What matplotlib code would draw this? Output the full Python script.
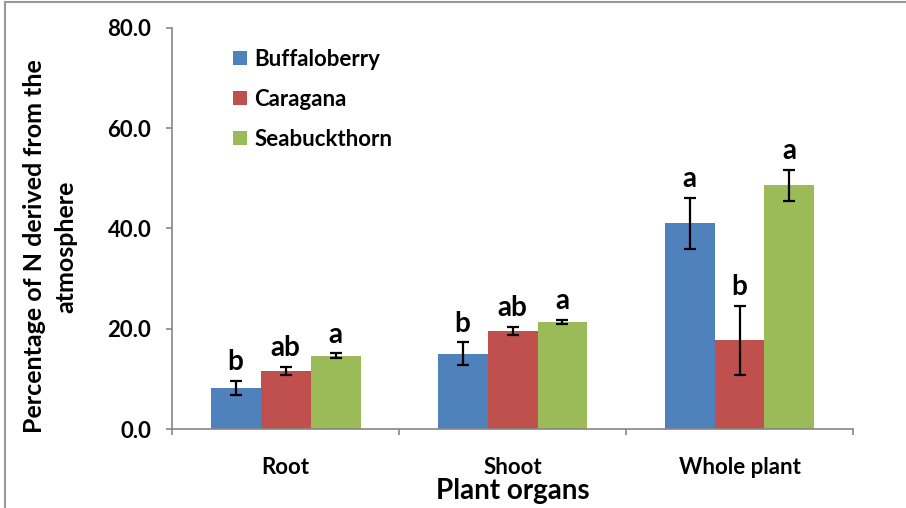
import numpy as np
import matplotlib
matplotlib.use('Agg')
import matplotlib.pyplot as plt
from matplotlib.lines import Line2D

plt.rcParams['font.family'] = ['Lato', 'DejaVu Sans']
plt.rcParams['font.weight'] = 'bold'

# data
organs = ['Root', 'Shoot', 'Whole plant']
species = ['Buffaloberry', 'Caragana', 'Seabuckthorn']
colors = ['#4F81BD', '#C0504D', '#9BBB59']
buffaloberry = [8.2, 15.0, 41.0]
caragana = [11.6, 19.6, 17.7]
seabuckthorn = [14.6, 21.4, 48.6]
buffaloberry_err = [1.4, 2.3, 5.1]
caragana_err = [0.8, 0.8, 6.9]
seabuckthorn_err = [0.5, 0.4, 3.1]
letters = [['b', 'b', 'a'], ['ab', 'ab', 'b'], ['a', 'a', 'a']]

values = [buffaloberry, caragana, seabuckthorn]
errors = [buffaloberry_err, caragana_err, seabuckthorn_err]

fig = plt.figure(figsize=(9.06, 5.08), dpi=100)
ax = fig.add_axes([0.190, 0.1555, 0.7515, 0.7895])

x = np.arange(len(organs))
w = 0.22
for i, sp in enumerate(species):
    pos = x + (i - 1) * w
    ax.bar(pos, values[i], width=w, color=colors[i], label=sp, zorder=2)
    ax.errorbar(pos, values[i], yerr=errors[i], fmt='none', ecolor='black',
                elinewidth=1.6, capsize=4, capthick=1.6, zorder=3)
    for j in range(len(organs)):
        ax.annotate(letters[i][j], (pos[j], values[i][j] + errors[i][j]),
                    xytext=(0, 4), textcoords='offset points',
                    ha='center', va='bottom', fontsize=20, fontweight='bold')

ax.set_xlim(-0.5, 2.5)
ax.set_ylim(0, 80)
ax.set_yticks([0, 20, 40, 60, 80])
ax.set_yticklabels([f'{v:.1f}' for v in [0, 20, 40, 60, 80]])
ax.set_xticks([-0.5, 0.5, 1.5, 2.5])
ax.set_xticklabels([])
ax.set_xticks(x, minor=True)
ax.set_xticklabels(organs, minor=True)
ax.tick_params(axis='x', which='minor', length=0, pad=20, labelsize=16)
ax.tick_params(axis='x', which='major', length=4, color='#868686', width=1.2)
ax.tick_params(axis='y', length=4, color='#868686', width=1.2, labelsize=16, pad=11)

for s in ['top', 'right']:
    ax.spines[s].set_visible(False)
for s in ['left', 'bottom']:
    ax.spines[s].set_color('#868686')
    ax.spines[s].set_linewidth(1.2)

ax.set_xlabel('Plant organs', fontsize=20, fontweight='bold', labelpad=0)
ax.set_ylabel('Percentage of N derived from the\natmosphere', fontsize=18,
              fontweight='bold', linespacing=1.45)
ax.yaxis.set_label_coords(-0.139, 0.455)

ax.legend(loc='upper left', bbox_to_anchor=(0.09, 0.948), frameon=False,
          borderaxespad=0, borderpad=0,
          fontsize=16, handlelength=0.6, handleheight=0.6,
          handletextpad=0.35, labelspacing=0.85)

# chart area border (top and left)
fig.add_artist(Line2D([5 / 906, 5 / 906], [0, 1 - 2 / 508], color='#999999', lw=1.5))
fig.add_artist(Line2D([5 / 906, 1], [1 - 2 / 508, 1 - 2 / 508], color='#999999', lw=1.5))

fig.savefig('out.png', dpi=100)
